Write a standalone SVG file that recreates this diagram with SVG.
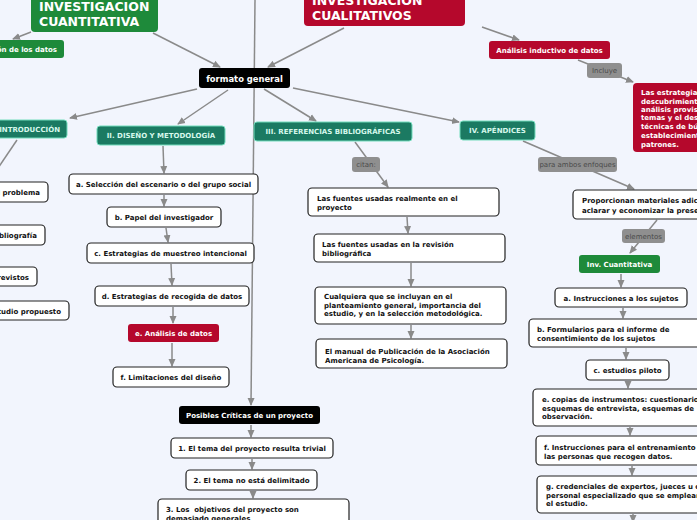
<svg xmlns="http://www.w3.org/2000/svg" width="697" height="520" viewBox="0 0 697 520">
<defs>
<marker id="ah" markerWidth="8" markerHeight="8" refX="7" refY="4" orient="auto" markerUnits="userSpaceOnUse">
<path d="M0,0.5 L8,4 L0,7.5 Z" fill="#8a8a8a"/>
</marker>
<style>
text{font-family:"DejaVu Sans","Verdana",sans-serif;}
.c{stroke:#8a8a8a;stroke-width:1.5;fill:none;}
.ca{stroke:#8a8a8a;stroke-width:1.5;fill:none;marker-end:url(#ah);}
.w{fill:#ffffff;stroke:#222;stroke-width:1.2;}
.blk{fill:#000;}
.red{fill:#b5082c;}
.grn{fill:#1e8a3a;}
.teal{fill:#1b7a62;stroke:#72dcbc;stroke-width:1;}
.lab{fill:#8f8f8f;}
.tw{fill:#fff;font-weight:bold;font-size:7px;}
.tb{fill:#111;font-weight:bold;font-size:7px;}
.tt{fill:#d6f8ec;font-weight:bold;font-size:7px;}
.tl{fill:#4a4a4a;font-size:7px;}
.big{fill:#fff;font-weight:bold;font-size:12.5px;}
.m{text-anchor:middle;}
</style>
</defs>
<rect width="697" height="520" fill="#f2f5fd"/>

<g id="connectors">
<line class="ca" x1="31" y1="32" x2="13" y2="39"/>
<line class="ca" x1="153" y1="33" x2="220" y2="67"/>
<line class="ca" x1="344" y1="28" x2="268" y2="67"/>
<line class="ca" x1="482" y1="27" x2="519" y2="40"/>
<line class="ca" x1="578" y1="60" x2="633" y2="82"/>
<line class="ca" x1="255" y1="0" x2="251" y2="405"/>
<line class="ca" x1="197" y1="89" x2="70" y2="118"/>
<line class="ca" x1="228" y1="90" x2="178" y2="124"/>
<line class="ca" x1="264" y1="89" x2="316" y2="121"/>
<line class="ca" x1="293" y1="88" x2="459" y2="122"/>
<line class="c" x1="17" y1="140" x2="-2" y2="168"/>
<line class="ca" x1="163" y1="146" x2="164" y2="173"/>
<line class="ca" x1="164" y1="195" x2="164" y2="206"/>
<line class="ca" x1="166" y1="228" x2="168" y2="242"/>
<line class="ca" x1="171" y1="264" x2="172" y2="285"/>
<line class="ca" x1="173" y1="307" x2="173" y2="323"/>
<line class="ca" x1="172" y1="343" x2="172" y2="366"/>
<line class="ca" x1="251" y1="425" x2="251" y2="437"/>
<line class="ca" x1="252" y1="459" x2="252" y2="469"/>
<line class="ca" x1="253" y1="491" x2="253" y2="498"/>
<line class="ca" x1="355" y1="142" x2="388" y2="187"/>
<line class="ca" x1="407" y1="217" x2="408" y2="233"/>
<line class="ca" x1="411" y1="263" x2="411" y2="286"/>
<line class="ca" x1="411" y1="325" x2="411" y2="338"/>
<line class="ca" x1="523" y1="141" x2="634" y2="189"/>
<line class="ca" x1="657" y1="220" x2="630" y2="253"/>
<line class="ca" x1="621" y1="274" x2="621" y2="287"/>
<line class="ca" x1="623" y1="308" x2="623" y2="318"/>
<line class="ca" x1="626" y1="348" x2="626" y2="359"/>
<line class="ca" x1="628" y1="382" x2="628" y2="388"/>
<line class="ca" x1="630" y1="427" x2="630" y2="435"/>
<line class="ca" x1="632" y1="466" x2="632" y2="475"/>
<line class="ca" x1="633" y1="514" x2="633" y2="522"/>
</g>

<g id="n-cuantitativa"><rect class="grn" x="31" y="-20" width="127" height="52" rx="4"/>
<text class="big" x="39" y="11">INVESTIGACION</text><text class="big" x="39" y="26">CUANTITATIVA</text></g>
<g id="n-datos"><rect class="grn" x="-40" y="40" width="104" height="18" rx="3"/>
<text class="tw" x="57" y="52" text-anchor="end">Recolección de los datos</text></g>
<g id="n-cualitativos"><rect class="red" x="304" y="-20" width="161" height="46" rx="4"/>
<text class="big" x="312" y="5">INVESTIGACION</text><text class="big" x="312" y="20">CUALITATIVOS</text></g>
<g id="n-formato"><rect class="blk" x="199" y="68" width="91" height="20" rx="3"/>
<text class="tw m" x="244.5" y="81.5" style="font-size:8.4px">formato general</text></g>
<g id="n-analisis-inductivo"><rect class="red" x="489" y="41" width="121" height="18" rx="3"/>
<text class="tw m" x="549.5" y="53">Análisis inductivo de datos</text></g>
<g id="l-incluye"><rect class="lab" x="587" y="63" width="35" height="15" rx="3"/>
<text class="tl m" x="604.5" y="73">Incluye</text></g>
<g id="n-estrategias"><rect class="red" x="633" y="83" width="90" height="69" rx="4"/>
<text class="tw" x="641" y="95">Las estrategias de</text><text class="tw" x="641" y="104">descubrimiento,</text><text class="tw" x="641" y="112">análisis provisional,</text><text class="tw" x="641" y="120">temas y el desarrollo</text><text class="tw" x="641" y="129">técnicas de búsqueda</text><text class="tw" x="641" y="138">establecimiento de</text><text class="tw" x="641" y="147">patrones.</text></g>

<g id="n-intro"><rect class="teal" x="-40" y="120" width="107" height="18" rx="3"/>
<text class="tt" x="60" y="132" text-anchor="end">I. INTRODUCCIÓN</text></g>
<g id="n-diseno"><rect class="teal" x="97" y="126" width="128" height="19" rx="3"/>
<text class="tt m" x="161" y="138">II. DISEÑO Y METODOLOGÍA</text></g>
<g id="n-referencias"><rect class="teal" x="254" y="122" width="158" height="19" rx="3"/>
<text class="tt m" x="333" y="134">III. REFERENCIAS BIBLIOGRÁFICAS</text></g>
<g id="n-apendices"><rect class="teal" x="460" y="121" width="75" height="19" rx="3"/>
<text class="tt m" x="497.5" y="133">IV. APÉNDICES</text></g>

<g id="n-i1"><rect class="w" x="-80" y="182" width="128" height="20" rx="4"/>
<text class="tb" x="40" y="195" text-anchor="end">Planteamiento del problema</text></g>
<g id="n-i2"><rect class="w" x="-80" y="225" width="125" height="20" rx="4"/>
<text class="tb" x="37" y="238" text-anchor="end">Revisión de la bibliografía</text></g>
<g id="n-i3"><rect class="w" x="-80" y="267" width="117" height="19" rx="4"/>
<text class="tb" x="29" y="280" text-anchor="end">Resultados previstos</text></g>
<g id="n-i4"><rect class="w" x="-80" y="301" width="149" height="19" rx="4"/>
<text class="tb" x="61" y="314" text-anchor="end">Importancia del estudio propuesto</text></g>

<g id="n-a"><rect class="w" x="69" y="174" width="189" height="20" rx="4"/>
<text class="tb m" x="163.5" y="187">a. Selección del escenario o del grupo social</text></g>
<g id="n-b"><rect class="w" x="107" y="207" width="114" height="20" rx="4"/>
<text class="tb m" x="164" y="220">b. Papel del investigador</text></g>
<g id="n-c"><rect class="w" x="87" y="243" width="167" height="20" rx="4"/>
<text class="tb m" x="170.5" y="256">c. Estrategias de muestreo intencional</text></g>
<g id="n-d"><rect class="w" x="95" y="286" width="154" height="20" rx="4"/>
<text class="tb m" x="172" y="299">d. Estrategias de recogida de datos</text></g>
<g id="n-e"><rect class="red" x="128" y="324" width="91" height="18" rx="3"/>
<text class="tw m" x="173.5" y="336">e. Análisis de datos</text></g>
<g id="n-f"><rect class="w" x="113" y="367" width="116" height="20" rx="4"/>
<text class="tb m" x="171" y="380">f. Limitaciones del diseño</text></g>

<g id="n-posibles"><rect class="blk" x="179" y="406" width="141" height="18" rx="3"/>
<text class="tw m" x="249.5" y="418">Posibles Críticas de un proyecto</text></g>
<g id="n-p1"><rect class="w" x="171" y="438" width="162" height="20" rx="4"/>
<text class="tb m" x="252" y="451">1. El tema del proyecto resulta trivial</text></g>
<g id="n-p2"><rect class="w" x="186" y="470" width="131" height="20" rx="4"/>
<text class="tb m" x="251.5" y="483">2. El tema no está delimitado</text></g>
<g id="n-p3"><rect class="w" x="158" y="499" width="191" height="40" rx="4"/>
<text class="tb" x="166" y="512" xml:space="preserve">3. Los  objetivos del proyecto son</text><text class="tb" x="166" y="521">demasiado generales</text></g>

<g id="l-citan"><rect class="lab" x="352" y="157" width="28" height="15" rx="3"/>
<text class="tl m" x="366" y="167">citan:</text></g>
<g id="n-r1"><rect class="w" x="308" y="188" width="191" height="28" rx="4"/>
<text class="tb" x="317" y="201">Las fuentes usadas realmente en el</text><text class="tb" x="317" y="210">proyecto</text></g>
<g id="n-r2"><rect class="w" x="314" y="234" width="191" height="28" rx="4"/>
<text class="tb" x="322" y="247">Las fuentes usadas en la revisión</text><text class="tb" x="322" y="256">bibliográfica</text></g>
<g id="n-r3"><rect class="w" x="315" y="287" width="191" height="37" rx="4"/>
<text class="tb" x="324" y="299">Cualquiera que se incluyan en el</text><text class="tb" x="324" y="307.5">planteamiento general, importancia del</text><text class="tb" x="324" y="316">estudio, y en la selección metodológica.</text></g>
<g id="n-r4"><rect class="w" x="316" y="339" width="191" height="29" rx="4"/>
<text class="tb" x="325" y="354">El manual de Publicación de la Asociación</text><text class="tb" x="325" y="362.5">Americana de Psicología.</text></g>

<g id="l-ambos"><rect class="lab" x="538" y="157" width="79" height="15" rx="3"/>
<text class="tl m" x="577.5" y="167">para ambos enfoques</text></g>
<g id="n-proporcionan"><rect class="w" x="573" y="190" width="180" height="29" rx="4"/>
<text class="tb" x="582" y="203">Proporcionan materiales adicionales para</text><text class="tb" x="582" y="212.5">aclarar y economizar la presentación</text></g>
<g id="l-elementos"><rect class="lab" x="622" y="229" width="43" height="14" rx="3"/>
<text class="tl m" x="643.5" y="239">elementos</text></g>
<g id="n-invcuant"><rect class="grn" x="579" y="255" width="81" height="18" rx="3"/>
<text class="tw m" x="619.5" y="267">Inv. Cuantitativa</text></g>
<g id="n-ap-a"><rect class="w" x="555" y="288" width="132" height="19" rx="4"/>
<text class="tb m" x="621" y="300.5">a. Instrucciones a los sujetos</text></g>
<g id="n-ap-b"><rect class="w" x="529" y="319" width="190" height="28" rx="4"/>
<text class="tb" x="537" y="332">b. Formularios para el informe de</text><text class="tb" x="537" y="341">consentimiento de los sujetos</text></g>
<g id="n-ap-c"><rect class="w" x="586" y="360" width="83" height="20" rx="4"/>
<text class="tb m" x="627.5" y="373">c. estudios piloto</text></g>
<g id="n-ap-e"><rect class="w" x="533" y="389" width="190" height="37" rx="4"/>
<text class="tb" x="542" y="402">e. copias de instrumentos: cuestionarios,</text><text class="tb" x="542" y="410.5">esquemas de entrevista, esquemas de</text><text class="tb" x="542" y="419">observación.</text></g>
<g id="n-ap-f"><rect class="w" x="536" y="436" width="190" height="29" rx="4"/>
<text class="tb" x="544" y="450">f. Instrucciones para el entrenamiento de</text><text class="tb" x="544" y="458.5">las personas que recogen datos.</text></g>
<g id="n-ap-g"><rect class="w" x="537" y="476" width="190" height="37" rx="4"/>
<text class="tb" x="546" y="489">g. credenciales de expertos, jueces u otro</text><text class="tb" x="546" y="497.5">personal especializado que se empleará en</text><text class="tb" x="546" y="506">el estudio.</text></g>
</svg>
